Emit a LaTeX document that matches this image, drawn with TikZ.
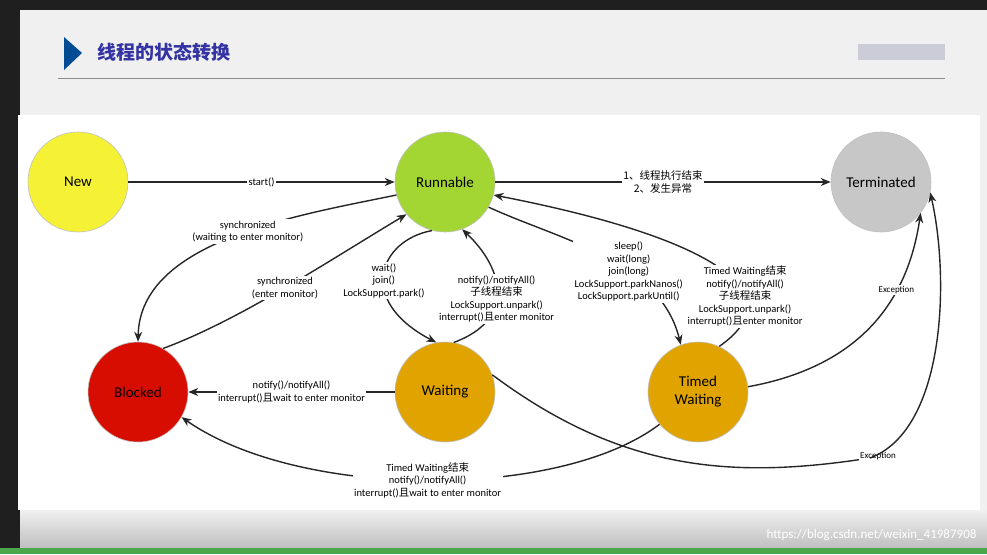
\documentclass[tikz,border=0pt]{standalone}
\usepackage{fontspec}
\setmainfont{Carlito}
\newfontfamily\cjk{Noto Sans CJK SC}
\usetikzlibrary{arrows.meta}
\begin{document}
\begin{tikzpicture}[x=1pt,y=-1pt,
 st/.style={circle,minimum size=100pt,inner sep=0pt,draw=black!25,line width=0.6pt,font=\fontsize{15}{18}\selectfont,align=center},
 lab/.style={fill=white,inner sep=1.5pt,align=center,font=\fontsize{10.5}{12.5}\selectfont},
 ed/.style={line width=1.4pt,draw=black!85,-{Stealth[length=10pt,width=8pt]}}]
\useasboundingbox (0,0) rectangle (987,554);
\fill[black!88] (0,0) rectangle (987,554);
\fill[black!6] (20,10) rectangle (987,548);
\shade[top color=black!6,bottom color=black!25] (20,510) rectangle (987,548);
\fill[green!50!black!70] (0,548) rectangle (987,554);
\fill[white] (18,115) rectangle (980,510);
\fill[blue!40!black!70!cyan] (64,37) -- (82,53) -- (64,70) -- cycle;
\node[anchor=west,text=blue!55!black!80,font=\cjk\bfseries\fontsize{19}{20}\selectfont] (title) at (94,52) {线程的状态转换};
\draw[black!45,line width=1pt] (58,78) -- (945,78);
\fill[blue!15!gray!35] (858,44) rectangle (945,60);
\node[anchor=east,text=white,font=\fontsize{13}{14}\selectfont] (wm) at (980,535) {https://blog.csdn.net/weixin\_41987908};

\node[st,fill=yellow!95!green!80!white] (new) at (78,182) {New};
\node[st,fill=green!55!black!45!yellow!80] (run) at (445,182) {Runnable};
\node[st,fill=black!22] (term) at (881,182) {Terminated};
\node[st,fill=red!82!black!90!orange] (blk) at (138,392) {Blocked};
\node[st,fill=orange!55!yellow!88!black] (wait) at (445,392) {Waiting};
\node[st,fill=orange!55!yellow!88!black] (tw) at (698,392) {Timed\\Waiting};

\draw[ed] (new) -- node[lab]{start()} (run);
\draw[ed] (run) -- node[lab]{{\cjk 1、线程执行结束}\\{\cjk 2、发生异常}} (term);
\draw[ed] (run.195) .. controls (300,215) and (140,240) .. node[lab,pos=0.45]{synchronized\\(waiting to enter monitor)} (blk.north);
\draw[ed] (blk.60) .. controls (240,320) and (330,260) .. node[lab,pos=0.5]{synchronized\\(enter monitor)} (run.220);
\draw[ed] (run.255) .. controls (380,240) and (355,300) .. node[lab,pos=0.55]{wait()\\join()\\LockSupport.park()} (wait.100);
\draw[ed] (wait.80) .. controls (515,320) and (505,270) .. node[lab,pos=0.45]{notify()/notifyAll()\\{\cjk 子线程结束}\\LockSupport.unpark()\\interrupt(){\cjk 且}enter monitor} (run.290);
\draw[ed] (run.330) .. controls (560,240) and (660,260) .. node[lab,pos=0.62]{sleep()\\wait(long)\\join(long)\\LockSupport.parkNanos()\\LockSupport.parkUntil()} (tw.110);
\draw[ed] (tw.65) .. controls (800,290) and (700,235) .. node[lab,pos=0.3]{Timed Waiting{\cjk 结束}\\notify()/notifyAll()\\{\cjk 子线程结束}\\LockSupport.unpark()\\interrupt(){\cjk 且}enter monitor} (run.345);
\draw[ed] (wait) -- node[lab]{notify()/notifyAll()\\interrupt(){\cjk 且}wait to enter monitor} (blk);
\draw[ed] (tw.220) .. controls (560,500) and (300,500) .. node[lab,pos=0.5]{Timed Waiting{\cjk 结束}\\notify()/notifyAll()\\interrupt(){\cjk 且}wait to enter monitor} (blk.330);
\draw[ed] (tw.6) .. controls (840,370) and (905,320) .. node[lab,pos=0.72,font=\fontsize{9}{10}\selectfont]{Exception} (term.322);
\coordinate (ex) at (870,458);
\draw[line width=1.4pt,draw=black!85] (wait.20) .. controls (620,470) and (730,480) .. (ex);
\node[lab,font=\fontsize{9}{10}\selectfont] (exl) at (878,456) {Exception};
\draw[ed] (ex) .. controls (945,430) and (950,280) .. (term.348);
\end{tikzpicture}
\end{document}
